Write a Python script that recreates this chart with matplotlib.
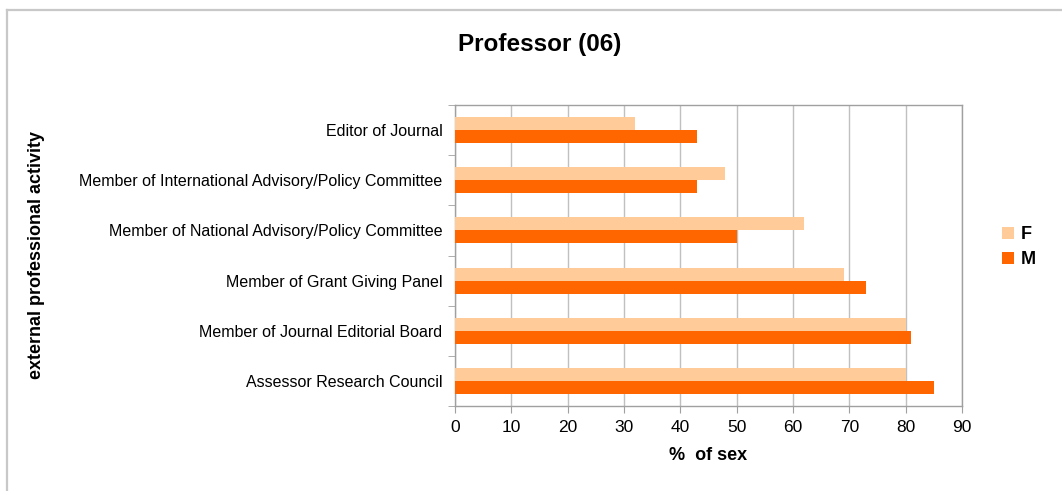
import matplotlib
matplotlib.use("Agg")
import matplotlib.pyplot as plt
import numpy as np
from matplotlib.lines import Line2D

plt.rcParams['font.family'] = ['Liberation Sans', 'DejaVu Sans']

categories = [
    "Editor of Journal",
    "Member of International Advisory/Policy Committee",
    "Member of National Advisory/Policy Committee",
    "Member of Grant Giving Panel",
    "Member of Journal Editorial Board",
    "Assessor Research Council",
]
female = [32, 48, 62, 69, 80, 80]
male = [43, 43, 50, 73, 81, 85]
xticks = [0, 10, 20, 30, 40, 50, 60, 70, 80, 90]

W, H = 1062, 491
fig = plt.figure(figsize=(W / 100, H / 100), dpi=100)

# chart frame: top and left edges
fx0, fy0 = 6.5 / W, 1 - 9.5 / H
fig.lines.append(Line2D([fx0, 1.0], [fy0, fy0], transform=fig.transFigure,
                        color='#c8c8c8', linewidth=1.6))
fig.lines.append(Line2D([fx0, fx0], [0.0, fy0], transform=fig.transFigure,
                        color='#c8c8c8', linewidth=1.6))

left, right, top, bottom = 455, 962, 105, 406
ax = fig.add_axes([left / W, 1 - bottom / H, (right - left) / W, (bottom - top) / H])

n = len(categories)
pos = np.arange(n)
bh = 0.26
ax.barh(pos - bh / 2, female, height=bh, color='#FFCC99', label='F', zorder=3)
ax.barh(pos + bh / 2, male, height=bh, color='#FF6600', label='M', zorder=3)

ax.set_ylim(n - 0.5, -0.5)
ax.set_xlim(0, 90)
ax.set_xticks(xticks)
ax.set_xticklabels([str(t) for t in xticks], fontsize=12.5)
ax.set_yticks(pos)
ax.set_yticklabels(categories, fontsize=11.5)
ax.tick_params(axis='y', length=0, pad=9)
ax.tick_params(axis='x', length=5, color='#a0a0a0', pad=5)
ax.set_yticks(np.arange(-0.5, n, 1.0), minor=True)
ax.tick_params(axis='y', which='minor', length=5, color='#a0a0a0')

ax.grid(axis='x', color='#c0c0c0', linewidth=1, zorder=0)
for s in ax.spines.values():
    s.set_color('#a0a0a0')
    s.set_linewidth(1)

fig.text(708 / W, 1 - 455 / H, '%  of sex', ha='center', va='center',
         fontsize=13, fontweight='bold')
fig.text(37 / W, 1 - 255 / H, 'external professional activity', rotation=90,
         ha='center', va='center', fontsize=13, fontweight='bold')
fig.text(540 / W, 1 - 45 / H, 'Professor (06)', ha='center', va='center',
         fontsize=17.5, fontweight='bold')

leg = fig.legend(loc='center left', bbox_to_anchor=(986 / W, 1 - 247 / H),
                 frameon=False, handlelength=0.65, handleheight=0.65,
                 handletextpad=0.35, labelspacing=0.45,
                 prop={'weight': 'bold', 'size': 13})

fig.savefig('out.png', dpi=100)
